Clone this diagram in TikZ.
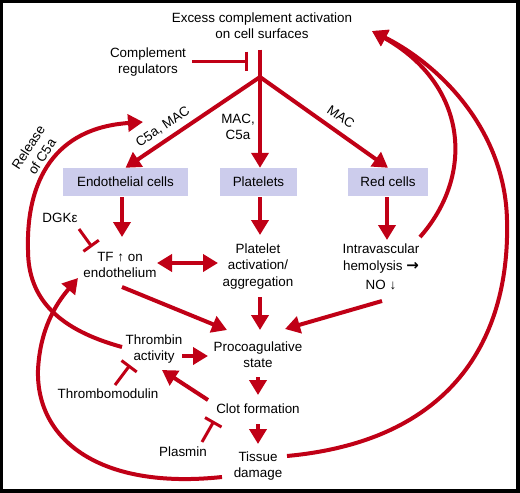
\documentclass[tikz,border=0pt]{standalone}
\usepackage{fontspec}
\setmainfont{Liberation Sans}
\newfontfamily\dejavu{DejaVu Sans}
\usetikzlibrary{arrows.meta,calc}
\definecolor{cred}{RGB}{192,0,22}
\definecolor{cbox}{RGB}{204,204,236}
\begin{document}
\begin{tikzpicture}[x=1pt,y=-1pt, font=\fontsize{13.4}{16.3}\selectfont,
 arr/.style={draw=cred,line width=4pt,-{Triangle[length=15pt,width=17pt]}},
 darr/.style={draw=cred,line width=4pt,{Triangle[length=15pt,width=17pt]}-{Triangle[length=15pt,width=17pt]}},
 inh/.style={draw=cred,line width=3pt,-{Bar[width=19pt]}},
 plain/.style={draw=cred,line width=4pt},
 txt/.style={align=center,inner sep=0pt},
 cbx/.style={fill=cbox,minimum height=28pt,inner sep=0pt}]
\fill[black] (0,0) rectangle (520,493);
\fill[white] (3,3) rectangle (516,489);
\useasboundingbox (0,0) rectangle (520,493);
% nodes
\node[txt] (excess) at (262,25.5) {Excess complement activation\\on cell surfaces};
\node[txt] (creg) at (148,62) {Complement\\regulators};
\coordinate (junc) at (260,77);
\node[cbx,minimum width=125pt] (endo) at (125.5,182) {Endothelial cells};
\node[cbx,minimum width=77pt] (plat) at (258.5,182) {Platelets};
\node[cbx,minimum width=80pt] (red) at (388,182) {Red cells};
\node[txt] (dgk) at (60,218) {DGKε};
\node[txt] (tf) at (120,265) {TF ↑ on\\endothelium};
\node[txt] (pact) at (258,266.5) {Platelet\\activation/\\aggregation};
\node[txt] (hemo) at (381,267) {Intravascular\\hemolysis {\dejavu\bfseries\fontsize{15}{15}\selectfont →}\\[3pt]NO ↓};
\node[txt] (thr) at (154,349) {Thrombin\\activity};
\node[txt] (proc) at (258,354.5) {Procoagulative\\state};
\node[txt] (thm) at (108,394) {Thrombomodulin};
\node[txt] (clot) at (258,409) {Clot formation};
\node[txt] (plas) at (183,452) {Plasmin};
\node[txt] (tis) at (258,466) {Tissue\\damage};
\node[txt,rotate=34] (lab1) at (163,127) {C5a, MAC};
\node[txt] (lab2) at (238,127) {MAC,\\C5a};
\node[txt,rotate=-34] (lab3) at (341,117) {MAC};
\node[txt,rotate=57] (lab4) at (35,152) {Release\\of C5a};
% connectors
\draw[plain] ($(excess)+(-2,24)$) -- (junc);
\draw[inh] ($(creg)+(44,-1)$) -- ($(junc)+(-12,-16)$);
\draw[arr] (junc) -- (endo.north);
\draw[arr] (junc) -- (junc |- plat.north);
\draw[arr] (junc) -- (red.north);
\draw[arr] ($(endo.south)+(-3.5,1)$) -- ($(tf)+(2,-28)$);
\draw[arr] ($(plat.south)+(1.5,1)$) -- ($(pact)+(2,-31.5)$);
\draw[arr] ($(red.south)+(-1,1)$) -- ($(hemo)+(6,-27)$);
\draw[inh] ($(dgk)+(19,11)$) -- ($(tf)+(-28,-18)$);
\draw[darr] ($(tf)+(37,-2)$) -- ($(pact)+(-40,-3.5)$);
\draw[arr] ($(tf)+(2,22)$) -- ($(proc)+(-31,-24.5)$);
\draw[arr] ($(pact)+(2,30.5)$) -- ($(proc)+(2,-24.5)$);
\draw[arr] ($(hemo)+(1,34)$) -- ($(proc)+(27,-25.5)$);
\draw[arr] ($(thr)+(28,7)$) -- ($(proc)+(-50,1.5)$);
\draw[inh] ($(thm)+(7,-9)$) -- ($(thr)+(-24,16)$);
\draw[arr] ($(proc)+(0,22.5)$) -- ($(clot)+(0,-14)$);
\draw[arr] ($(clot)+(-50,-9)$) -- ($(thr)+(8,21)$);
\draw[inh] ($(plas)+(19,-10)$) -- ($(clot)+(-44,12)$);
\draw[arr] ($(clot)+(0,15)$) -- ($(tis)+(0,-22)$);
% curves
\draw[arr] ($(thr)+(-32,-2)$) .. controls (60,330) and (28,300) .. (28,250) .. controls (26,180) and (55,128) .. ($(lab1)+(-20,-5)$);
\draw[arr] ($(tis)+(-36,11)$) .. controls (100,490) and (36,440) .. (38,370) .. controls (40,330) and (55,305) .. ($(tf)+(-42,13)$);
\draw[arr] ($(hemo)+(39,-30)$) .. controls (475,175) and (468,85) .. ($(excess)+(110,5.5)$);
\draw[arr] ($(tis)+(29,-10)$) .. controls (460,440) and (510,330) .. (507,220) .. controls (505,130) and (440,65) .. ($(excess)+(110,5.5)$);
\end{tikzpicture}
\end{document}
